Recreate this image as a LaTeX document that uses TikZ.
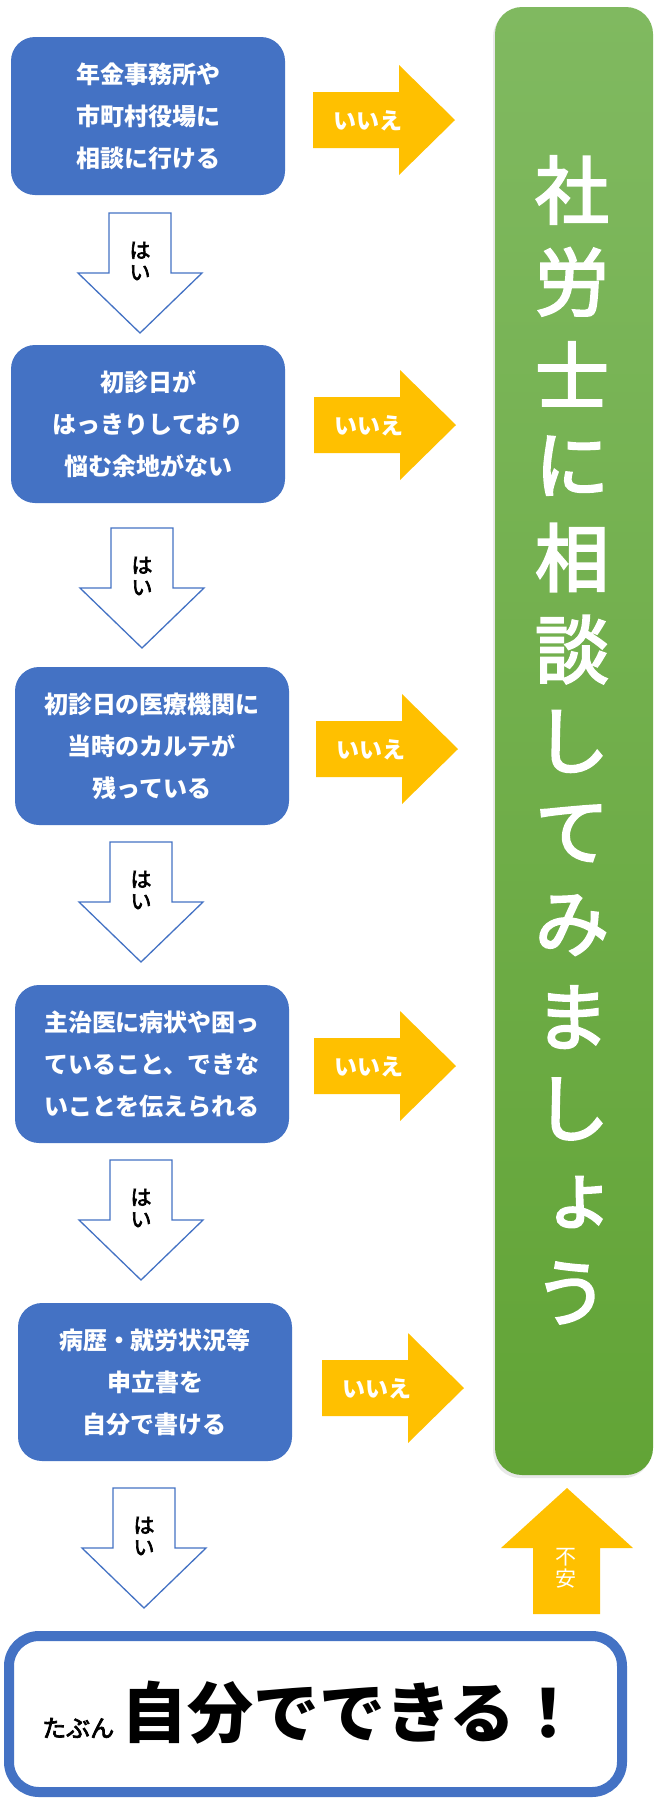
\documentclass[tikz,border=0pt]{standalone}
\usepackage{fontspec}
\newfontfamily\jp{Noto Sans CJK JP}
\newfontfamily\jpm{Noto Sans CJK JP}[FakeBold=3]
\usetikzlibrary{shadows}
\definecolor{boxblue}{HTML}{4472C4}
\definecolor{gold}{HTML}{FFC000}
\definecolor{gtop}{HTML}{80B960}
\definecolor{gbot}{HTML}{62A436}
\tikzset{
  qbox/.style={rounded corners=24pt, fill=boxblue, text=white, minimum width=274pt,
    minimum height=158pt, inner sep=0pt, align=center,
    font=\jp\bfseries\fontsize{24}{42}\selectfont},
  yesarrow/.style={draw=boxblue, line width=1.3pt, fill=white, line join=miter},
  noarrow/.style={fill=gold},
  yeslabel/.style={align=center, inner sep=0pt, font=\jpm\fontsize{21}{22}\selectfont},
  fuanlabel/.style={align=center, inner sep=0pt, text=white, font=\jp\fontsize{21}{22}\selectfont},
  nolabel/.style={inner sep=0pt, text=white, font=\jp\bfseries\fontsize{23}{23}\selectfont},
  bartext/.style={inner sep=0pt, text=white, font=\jpm\fontsize{74}{74}\selectfont},
}
\begin{document}
\begin{tikzpicture}[x=1pt,y=-1pt]
\fill[white] (0,0) rectangle (664,1800);
\useasboundingbox (0,0) rectangle (664,1800);

% green bar
\node (bar) [rounded corners=27pt, top color=gtop, bottom color=gbot,
  minimum width=158pt, minimum height=1468pt, inner sep=0pt,
  drop shadow={opacity=0.18, shadow xshift=-2pt, shadow yshift=-3pt}] at (574,741) {};
\foreach \ch [count=\i] in {社,労,士,に,相,談,し,て,み,ま,し} {
  \node[bartext] (g\i) at (572,{190+(\i-1)*91.9}) {\ch};
}
\node[bartext] (g12) at (580,1202) {ょ};
\node[bartext] (g13) at (571,1293) {う};

% question boxes
\node[qbox] (q1) at (148,116) {年金事務所や\\市町村役場に\\相談に行ける};
\node[qbox] (q2) at (148,424) {初診日が\\はっきりしており\\悩む余地がない};
\node[qbox] (q3) at (152,746) {初診日の医療機関に\\当時のカルテが\\残っている};
\node[qbox] (q4) at (152,1064) {主治医に病状や困っ\\ていること、できな\\いことを伝えられる};
\node[qbox] (q5) at (155,1382) {病歴・就労状況等\\申立書を\\自分で書ける};

% yes arrows
\foreach \c/\t [count=\i] in {140/213,142/528,141/842,141/1160,144/1488} {
  \draw[yesarrow] (\c-31,\t) -- (\c+31,\t) -- (\c+31,\t+60) -- (\c+62,\t+60)
    -- (\c,\t+120) -- (\c-62,\t+60) -- (\c-31,\t+60) -- cycle;
  \node[yeslabel] (yes\i) at (\c,\t+48) {は\\い};
}

% no arrows
\foreach \l/\m [count=\i] in {313/120,314/425,316/749,314/1066,322/1388} {
  \fill[noarrow] (\l,\m-28) -- (\l+86,\m-28) -- (\l+86,\m-55) -- (\l+142,\m)
    -- (\l+86,\m+55) -- (\l+86,\m+28) -- (\l,\m+28) -- cycle;
  \node[nolabel] (no\i) at (\l+55,\m+1) {いいえ};
}

% up arrow
\fill[noarrow] (567,1488) -- (633,1548) -- (600,1548) -- (600,1614)
  -- (533,1614) -- (533,1548) -- (501,1548) -- cycle;
\node[fuanlabel] (fuan) at (566,1568) {不\\安};

% final box
\node (done) [draw=boxblue, line width=10pt, rounded corners=30pt,
  minimum width=613pt, minimum height=156pt, inner sep=0pt] at (315.5,1714) {};
\node (tabun) [anchor=base west, inner sep=0pt, font=\jpm\fontsize{24}{24}\selectfont] at (42,1737) {たぶん};
\node (jibun) [anchor=base west, inner sep=0pt, font=\jp\bfseries\fontsize{66}{66}\selectfont] at (121,1737) {自分でできる！};
\end{tikzpicture}
\end{document}
